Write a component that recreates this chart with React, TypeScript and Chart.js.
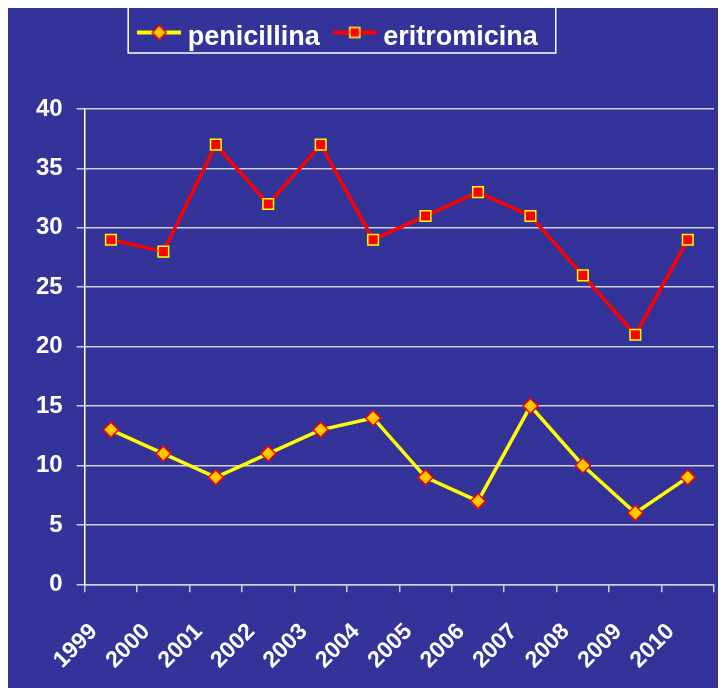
import React, { useEffect, useRef } from "react";
import { Chart, registerables } from "chart.js";

Chart.register(...registerables);

const years = ["1999", "2000", "2001", "2002", "2003", "2004", "2005", "2006", "2007", "2008", "2009", "2010"];
const penicillina = [13, 11, 9, 11, 13, 14, 9, 7, 15, 10, 6, 9];
const eritromicina = [29, 28, 37, 32, 37, 29, 31, 33, 31, 26, 21, 29];
const yTicksMin = 0;
const yTicksMax = 40;
const yTicksStep = 5;

const BG = "#333399";
const FONT = "'Liberation Sans', Arial, sans-serif";

function legendIcon(line: string, fill: string, border: string, diamond: boolean): HTMLCanvasElement {
  const c = document.createElement("canvas");
  c.width = 44;
  c.height = 28;
  const ctx = c.getContext("2d")!;
  const cy = 9;
  ctx.strokeStyle = line;
  ctx.lineWidth = 4;
  ctx.beginPath();
  ctx.moveTo(0, cy);
  ctx.lineTo(44, cy);
  ctx.stroke();
  ctx.fillStyle = fill;
  ctx.strokeStyle = border;
  ctx.lineWidth = 1.5;
  ctx.beginPath();
  if (diamond) {
    ctx.moveTo(22, cy - 7);
    ctx.lineTo(29, cy);
    ctx.lineTo(22, cy + 7);
    ctx.lineTo(15, cy);
    ctx.closePath();
  } else {
    ctx.rect(17, cy - 5, 10, 10);
  }
  ctx.fill();
  ctx.stroke();
  return c;
}

export default function App() {
  const ref = useRef<HTMLCanvasElement | null>(null);
  useEffect(() => {
    if (!ref.current) return;
    const penIcon = legendIcon("#FFFF00", "#FFCC00", "#FF0000", true);
    const eriIcon = legendIcon("#FF0000", "#FF0000", "#FFFF00", false);

    const legendMargin = {
      id: "legendMargin",
      beforeInit(chart: any) {
        const orig = chart.legend.fit;
        chart.legend.fit = function () {
          orig.call(this);
          this.height = 105;
        };
      },
      afterLayout(chart: any) {
        const lg = chart.legend;
        if (!lg) return;
        lg.left -= 27;
        lg.right -= 27;
      },
    };
    const legendBox = {
      id: "legendBox",
      afterDraw(chart: any) {
        const lg = chart.legend;
        if (!lg || !lg.legendHitBoxes || !lg.legendHitBoxes.length) return;
        const hb = lg.legendHitBoxes;
        let l = Infinity, r = -Infinity, t = Infinity, b = -Infinity;
        hb.forEach((h: any) => {
          l = Math.min(l, h.left);
          r = Math.max(r, h.left + h.width);
          t = Math.min(t, h.top);
          b = Math.max(b, h.top + h.height);
        });
        const ctx = chart.ctx;
        ctx.save();
        ctx.strokeStyle = "#FFFFFF";
        ctx.lineWidth = 1.5;
        ctx.strokeRect(l - 16, t - 17, r - l + 34, b - t + 19);
        ctx.restore();
      },
    };

    const chart = new Chart(ref.current, {
      type: "line",
      data: {
        labels: years,
        datasets: [
          {
            label: "penicillina",
            data: penicillina,
            borderColor: "#FFFF00",
            backgroundColor: "#FFCC00",
            borderWidth: 3.5,
            pointStyle: "rectRot",
            pointRadius: 7.5,
            pointBackgroundColor: "#FFCC00",
            pointBorderColor: "#FF0000",
            pointBorderWidth: 1.5,
            tension: 0,
          },
          {
            label: "eritromicina",
            data: eritromicina,
            borderColor: "#FF0000",
            backgroundColor: "#FF0000",
            borderWidth: 3.5,
            pointStyle: "rect",
            pointRadius: 7.5,
            pointBackgroundColor: "#FF0000",
            pointBorderColor: "#FFFF00",
            pointBorderWidth: 1.5,
            tension: 0,
          },
        ],
      },
      options: {
        responsive: false,
        animation: false,
        layout: { padding: { top: 1, left: 14, right: 12, bottom: -12 } },
        plugins: {
          tooltip: { enabled: false },
          legend: {
            position: "top",
            labels: {
              color: "#FFFFFF",
              font: { family: FONT, size: 27, weight: "bold" },
              usePointStyle: true,
              pointStyleWidth: 30,
              padding: 20,
              generateLabels: () => [
                { text: "penicillina", pointStyle: penIcon as any, fillStyle: "#FFCC00", strokeStyle: "#FF0000", lineWidth: 0, hidden: false, datasetIndex: 0, fontColor: "#FFFFFF" },
                { text: "eritromicina", pointStyle: eriIcon as any, fillStyle: "#FF0000", strokeStyle: "#FFFF00", lineWidth: 0, hidden: false, datasetIndex: 1, fontColor: "#FFFFFF" },
              ],
            },
          },
        },
        scales: {
          x: {
            offset: true,
            afterFit: (scale: any) => {
              scale.paddingRight = 0;
            },
            grid: {
              display: true,
              offset: true,
              drawOnChartArea: false,
              drawTicks: true,
              tickLength: 8,
              color: "#D0D0E0",
              lineWidth: 1.5,
            },
            border: { display: true, color: "#D0D0E0", width: 1.5 },
            ticks: {
              color: "#FFFFFF",
              font: { family: FONT, size: 23, weight: "bold" },
              minRotation: 45,
              maxRotation: 45,
              labelOffset: -17,
              padding: 26,
              autoSkip: false,
            },
          },
          y: {
            min: yTicksMin,
            max: yTicksMax,
            grid: {
              color: "#D0D0E0",
              lineWidth: 1.5,
              drawTicks: true,
              tickLength: 8,
            },
            border: { display: true, color: "#FFFFFF", width: 1.5 },
            ticks: {
              stepSize: yTicksStep,
              color: "#FFFFFF",
              font: { family: FONT, size: 24, weight: "bold" },
              padding: 14,
            },
          },
        },
      },
      plugins: [legendMargin, legendBox],
    });
    return () => chart.destroy();
  }, []);

  return (
    <div style={{ width: 718, height: 685, marginTop: -5, background: BG }}>
      <canvas ref={ref} width={718} height={685} style={{ display: "block" }} />
    </div>
  );
}
